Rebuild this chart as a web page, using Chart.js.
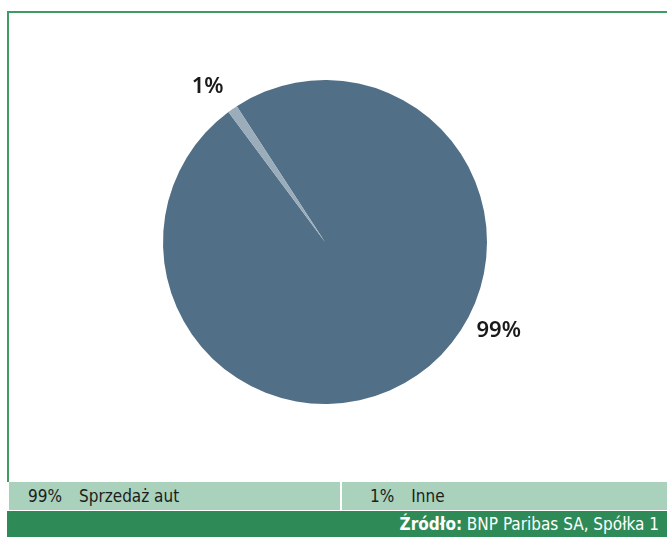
<!DOCTYPE html>
<html lang="pl">
<head>
<meta charset="UTF-8">
<title>Struktura przychodów</title>
<style>
  body { margin: 0; width: 667px; height: 537px; background: #fff; overflow: hidden; font-family: "Liberation Sans Narrow", "DejaVu Sans Condensed", sans-serif; }
  .ramka { position: absolute; left: 7px; top: 11px; width: 670px; height: 471px; border-top: 2px solid #3d9b63; border-left: 2px solid #3d9b63; box-sizing: border-box; }
  .wykres { position: absolute; left: 9px; top: 14px; width: 658px; height: 468px; }
  .legenda { position: absolute; left: 9px; top: 482px; width: 658px; height: 28px; display: flex; }
  .legenda div { background: #a9d1bc; height: 28px; line-height: 28px; font-size: 17px; color: #1d1d1d; box-sizing: border-box; }
  .legenda div span { display: inline-block; margin-right: 17px; }
  .zrodlo { position: absolute; left: 7px; top: 511px; width: 660px; height: 26px; background: #2e8b57; color: #fff; text-align: right; font-size: 17px; line-height: 27px; padding-right: 8px; box-sizing: border-box; }
</style>
</head>
<body>
<div class="ramka"></div>
<div class="wykres"><canvas id="myChart"></canvas></div>
<div class="legenda" id="legenda"></div>
<div class="zrodlo"><b>Źródło:</b> BNP Paribas SA, Spółka 1</div>

<script src="https://cdn.jsdelivr.net/npm/chart.js"></script>
<script>
// dane wykresu
var kategorie = ['Sprzedaż aut', 'Inne'];
var wartosci = [99, 1];
var etykiety = ['99%', '1%'];

var kolory = ['#517087', '#9badba'];
// kąt etykiety (stopnie od góry, zgodnie z zegarem)
var katyEtykiet = [117, -37];

// legenda pod wykresem
var legenda = document.getElementById('legenda');
var szerokosci = [331, 327];
var wciecia = [19, 28];
for (var i = 0; i < kategorie.length; i++) {
    var d = document.createElement('div');
    d.style.width = szerokosci[i] + 'px';
    d.style.paddingLeft = wciecia[i] + 'px';
    if (i > 0) d.style.borderLeft = '2px solid #fff';
    d.innerHTML = '<span>' + etykiety[i] + '</span>' + kategorie[i];
    legenda.appendChild(d);
}

const pluginEtykiety = {
    id: 'etykiety',
    afterDraw(chart) {
        const ctx = chart.ctx;
        const meta = chart.getDatasetMeta(0);
        const luk = meta.data[0];
        ctx.save();
        ctx.font = '600 22px "Noto Sans", sans-serif';
        ctx.fillStyle = '#1a1a1a';
        ctx.textAlign = 'center';
        ctx.textBaseline = 'middle';
        for (let i = 0; i < etykiety.length; i++) {
            const a = katyEtykiet[i] * Math.PI / 180;
            const r = luk.outerRadius + 33;
            const x = luk.x + Math.sin(a) * r;
            const y = luk.y - Math.cos(a) * r;
            ctx.fillText(etykiety[i], x, y);
        }
        ctx.restore();
    }
};

new Chart(document.getElementById('myChart'), {
    type: 'pie',
    data: {
        labels: kategorie,
        datasets: [{
            data: wartosci,
            backgroundColor: kolory,
            borderWidth: 0
        }]
    },
    options: {
        responsive: true,
        maintainAspectRatio: false,
        animation: false,
        rotation: -33,
        layout: { padding: { top: 66, bottom: 78, left: 154, right: 180 } },
        plugins: {
            legend: { display: false },
            tooltip: { enabled: false }
        }
    },
    plugins: [pluginEtykiety]
});
</script>
</body>
</html>
